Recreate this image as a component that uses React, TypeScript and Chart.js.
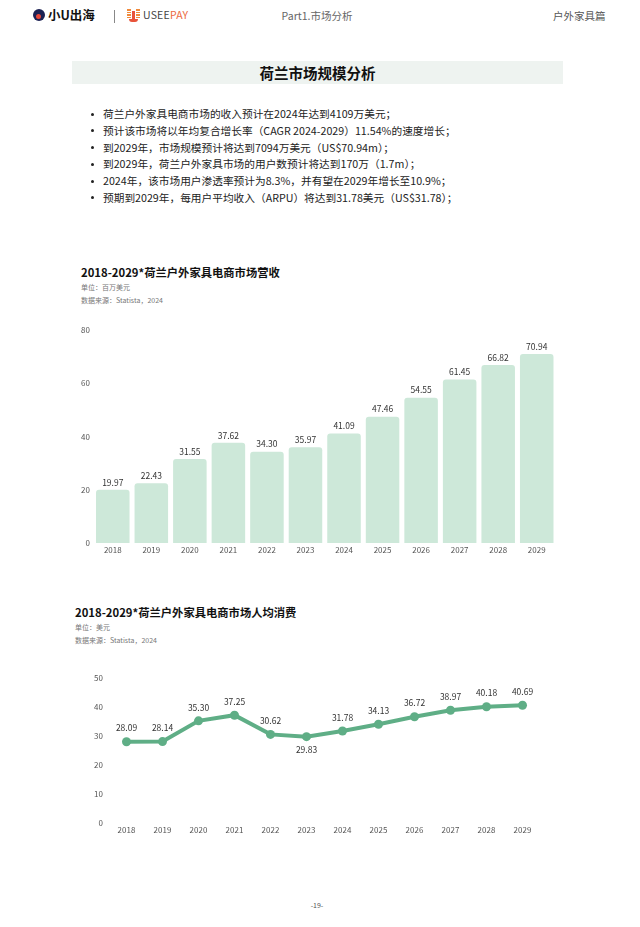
import React, { useEffect, useRef } from "react";
import { Chart, registerables } from "chart.js";

Chart.register(...registerables);

const FONT = '"Noto Sans CJK SC", "Noto Sans", sans-serif';

const years = ["2018", "2019", "2020", "2021", "2022", "2023", "2024", "2025", "2026", "2027", "2028", "2029"];
const revenue = [19.97, 22.43, 31.55, 37.62, 34.3, 35.97, 41.09, 47.46, 54.55, 61.45, 66.82, 70.94];
const arpu = [28.09, 28.14, 35.3, 37.25, 30.62, 29.83, 31.78, 34.13, 36.72, 38.97, 40.18, 40.69];
const revenueAxis = { max: 80, step: 20 };
const arpuAxis = { max: 50, step: 10 };

const pageTitle = "荷兰市场规模分析";
const bullets = [
  "荷兰户外家具电商市场的收入预计在2024年达到4109万美元；",
  "预计该市场将以年均复合增长率（CAGR 2024-2029）11.54%的速度增长；",
  "到2029年，市场规模预计将达到7094万美元（US$70.94m）；",
  "到2029年，荷兰户外家具市场的用户数预计将达到170万（1.7m）；",
  "2024年，该市场用户渗透率预计为8.3%，并有望在2029年增长至10.9%；",
  "预期到2029年，每用户平均收入（ARPU）将达到31.78美元（US$31.78）；",
];
const chart1Title = "2018-2029*荷兰户外家具电商市场营收";
const chart1Unit = "单位：百万美元";
const chart2Title = "2018-2029*荷兰户外家具电商市场人均消费";
const chart2Unit = "单位：美元";
const sourceText = "数据来源：Statista，2024";

const BAR_COLOR = "#cde8d9";
const LINE_COLOR = "#5fae86";
const TICK_COLOR = "#555555";
const LABEL_COLOR = "#333333";

function makeLabelPlugin(above: number, below: number, minBelow: boolean) {
  return {
    id: "valueLabels",
    afterDatasetsDraw(chart: any) {
      const ctx = chart.ctx;
      chart.data.datasets.forEach((ds: any, di: number) => {
        const meta = chart.getDatasetMeta(di);
        const data = ds.data as number[];
        meta.data.forEach((el: any, i: number) => {
          const v = data[i];
          let isBelow = false;
          if (minBelow && i > 0 && i < data.length - 1 && v < data[i - 1] && v < data[i + 1]) isBelow = true;
          ctx.save();
          ctx.font = `8.5px ${FONT}`;
          ctx.fillStyle = LABEL_COLOR;
          ctx.textAlign = "center";
          ctx.textBaseline = "middle";
          ctx.fillText(v.toFixed(2), el.x, isBelow ? el.y + below : el.y - above);
          ctx.restore();
        });
      });
    },
  };
}

function fixedWidth(w: number) {
  return (scale: any) => {
    scale.width = w;
  };
}
function fixedHeight(h: number) {
  return (scale: any) => {
    scale.height = h;
  };
}

function BarChart() {
  const ref = useRef<HTMLCanvasElement>(null);
  useEffect(() => {
    const chart = new Chart(ref.current!, {
      type: "bar",
      data: {
        labels: years,
        datasets: [
          {
            data: revenue,
            backgroundColor: BAR_COLOR,
            borderRadius: 3,
            borderSkipped: "bottom",
            categoryPercentage: 0.87,
            barPercentage: 1,
          },
        ],
      },
      options: {
        responsive: false,
        animation: false,
        layout: { padding: { top: 10, left: 0, right: 0, bottom: 0 } },
        plugins: { legend: { display: false }, tooltip: { enabled: false } },
        scales: {
          x: {
            grid: { display: false, drawTicks: false },
            border: { display: false },
            ticks: { font: { size: 8, family: FONT }, color: TICK_COLOR, padding: 2, maxRotation: 0 },
            afterFit: fixedHeight(16),
          },
          y: {
            min: 0,
            max: revenueAxis.max,
            grid: { display: false, drawTicks: false },
            border: { display: false },
            ticks: { stepSize: revenueAxis.step, font: { size: 8, family: FONT }, color: TICK_COLOR, padding: 3.5 },
            afterFit: fixedWidth(18.5),
          },
        },
      },
      plugins: [makeLabelPlugin(7.5, 12, false)],
    });
    return () => chart.destroy();
  }, []);
  return (
    <canvas
      ref={ref}
      width={481}
      height={239}
      style={{ position: "absolute", left: 75, top: 320, width: 481, height: 239 }}
    />
  );
}

function LineChart() {
  const ref = useRef<HTMLCanvasElement>(null);
  useEffect(() => {
    const chart = new Chart(ref.current!, {
      type: "line",
      data: {
        labels: years,
        datasets: [
          {
            data: arpu,
            borderColor: LINE_COLOR,
            backgroundColor: LINE_COLOR,
            borderWidth: 4,
            pointRadius: 4.5,
            pointBackgroundColor: LINE_COLOR,
            pointBorderWidth: 0,
            tension: 0,
            fill: false,
          },
        ],
      },
      options: {
        responsive: false,
        animation: false,
        layout: { padding: { top: 10, left: 0, right: 0, bottom: 0 } },
        plugins: { legend: { display: false }, tooltip: { enabled: false } },
        scales: {
          x: {
            offset: true,
            grid: { display: false, drawTicks: false },
            border: { display: false },
            ticks: { font: { size: 8, family: FONT }, color: TICK_COLOR, padding: 2.5, maxRotation: 0 },
            afterFit: fixedHeight(16),
          },
          y: {
            min: 0,
            max: arpuAxis.max,
            grid: { display: false, drawTicks: false },
            border: { display: false },
            ticks: { stepSize: arpuAxis.step, font: { size: 8, family: FONT }, color: TICK_COLOR, padding: 5.5 },
            afterFit: fixedWidth(23.5),
          },
        },
      },
      plugins: [makeLabelPlugin(13.5, 13, true)],
    });
    return () => chart.destroy();
  }, []);
  return (
    <canvas
      ref={ref}
      width={460}
      height={171}
      style={{ position: "absolute", left: 85, top: 668, width: 460, height: 171 }}
    />
  );
}

const abs = (s: React.CSSProperties): React.CSSProperties => ({ position: "absolute", ...s });

export default function App() {
  return (
    <div
      style={{
        position: "absolute",
        left: 0,
        top: 0,
        width: 640,
        height: 927,
        background: "#ffffff",
        fontFamily: FONT,
        overflow: "hidden",
      }}
    >
      {/* Header */}
      <div style={abs({ left: 33, top: 9, width: 12, height: 12, borderRadius: "50%", background: "#1c2254" })}>
        <div style={abs({ left: 3, top: 5, width: 5, height: 5, borderRadius: "50%", background: "#e8483a" })} />
      </div>
      <div style={abs({ left: 48, top: 6, fontSize: 12.5, fontWeight: 700, color: "#111", lineHeight: "18px" })}>小U出海</div>
      <div style={abs({ left: 114, top: 10, width: 1, height: 13, background: "#888" })} />
      <div style={abs({ left: 127, top: 9, width: 14, height: 13 })}>
        {[0, 2.6, 5.2, 7.8].map((t, i) => (
          <React.Fragment key={i}>
            <div style={abs({ left: 0, top: t, width: 4, height: 1.6, background: "#f08a3c" })} />
            <div style={abs({ left: 9, top: t, width: 4, height: 1.6, background: "#f08a3c" })} />
          </React.Fragment>
        ))}
        <div style={abs({ left: 2, top: 10, width: 9, height: 2.5, borderRadius: "0 0 3px 3px", background: "#e8533a" })} />
        <div style={abs({ left: 5, top: 2, width: 3, height: 8, background: "#e8533a" })} />
      </div>
      <div style={abs({ left: 143, top: 7, fontSize: 10.5, color: "#444", lineHeight: "16px", letterSpacing: 0.2 })}>
        USEE<span style={{ color: "#ec6a3e" }}>PAY</span>
      </div>
      <div style={abs({ left: 240, top: 8, width: 154, textAlign: "center", fontSize: 10.5, color: "#666", lineHeight: "16px" })}>
        Part1.市场分析
      </div>
      <div style={abs({ left: 553, top: 8, fontSize: 10.5, color: "#555", lineHeight: "16px" })}>户外家具篇</div>

      {/* Title band */}
      <div
        style={abs({
          left: 72,
          top: 61,
          width: 491,
          height: 23,
          background: "#eef3f0",
          textAlign: "center",
          fontSize: 14.5,
          fontWeight: 700,
          color: "#111",
          lineHeight: "24px",
        })}
      >
        {pageTitle}
      </div>

      {/* Bullets */}
      {bullets.map((b, i) => (
        <React.Fragment key={i}>
          <div
            style={abs({ left: 90.5, top: 114 + i * 16.75 - 1.5, width: 3, height: 3, borderRadius: "50%", background: "#222" })}
          />
          <div
            style={abs({
              left: 103,
              top: 114 + i * 16.75 - 8,
              fontSize: 10.7,
              color: "#222",
              lineHeight: "16px",
              whiteSpace: "nowrap",
            })}
          >
            {b}
          </div>
        </React.Fragment>
      ))}

      {/* Chart 1 header */}
      <div style={abs({ left: 81, top: 263, fontSize: 11.3, fontWeight: 700, color: "#111", lineHeight: "18px", whiteSpace: "nowrap" })}>
        {chart1Title}
      </div>
      <div style={abs({ left: 81, top: 282, fontSize: 7, color: "#777", lineHeight: "11px" })}>{chart1Unit}</div>
      <div style={abs({ left: 81, top: 295, fontSize: 7, color: "#777", lineHeight: "11px" })}>{sourceText}</div>
      <BarChart />

      {/* Chart 2 header */}
      <div style={abs({ left: 75, top: 603, fontSize: 11.3, fontWeight: 700, color: "#111", lineHeight: "18px", whiteSpace: "nowrap" })}>
        {chart2Title}
      </div>
      <div style={abs({ left: 75, top: 622, fontSize: 7, color: "#777", lineHeight: "11px" })}>{chart2Unit}</div>
      <div style={abs({ left: 75, top: 635, fontSize: 7, color: "#777", lineHeight: "11px" })}>{sourceText}</div>
      <LineChart />

      {/* Footer */}
      <div style={abs({ left: 297, top: 900, width: 40, textAlign: "center", fontSize: 7, color: "#555", lineHeight: "11px" })}>
        -19-
      </div>
    </div>
  );
}
